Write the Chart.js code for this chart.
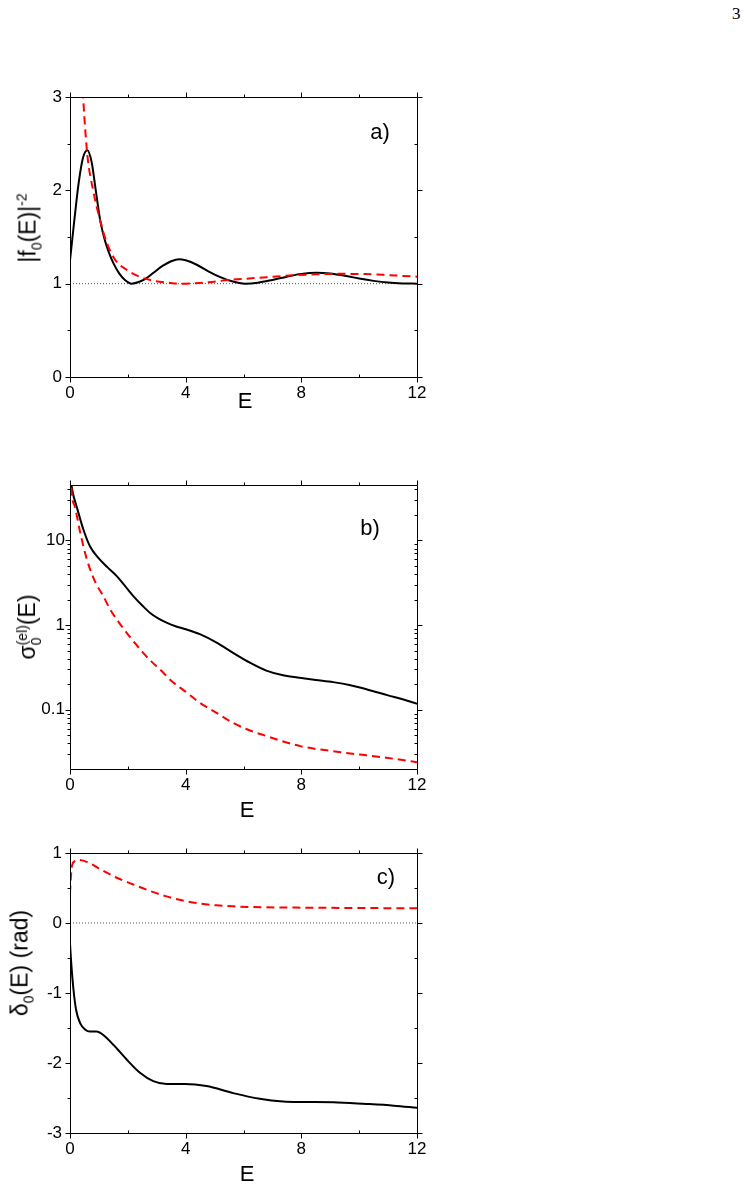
<!DOCTYPE html>
<html>
<head>
<meta charset="utf-8">
<script src="https://cdn.jsdelivr.net/npm/chart.js@4.4.1/dist/chart.umd.min.js"></script>
<style>
  body { margin: 0; background: #fff; }
  #page { position: relative; width: 747px; height: 1203px; overflow: hidden;
          font-family: "Liberation Sans", Arial, sans-serif; color: #000; }
  canvas { position: absolute; left: 0; }
  .lbl { position: absolute; transform: translate(-50%, -50%); white-space: nowrap; line-height: 1; }
  .ylab { position: absolute; transform: translate(-50%, -50%) rotate(-90deg); white-space: nowrap;
          line-height: 1; font-size: 23px; }
  .ylab sub, .ylab sup { font-size: 14px; line-height: 0; }
  .stack { display: inline-block; font-size: 14px; line-height: 14px; vertical-align: -6px; }
  .stack span { display: block; }
  .pnum { position: absolute; left: 732px; top: 4px; font-family: "Liberation Serif", "DejaVu Serif", serif; font-size: 17px; }
</style>
</head>
<body>
<div id="page">
  <div class="pnum">3</div>

  <canvas id="chartA" width="460" height="380" style="top:60px"></canvas>
  <canvas id="chartB" width="460" height="380" style="top:450px"></canvas>
  <canvas id="chartC" width="460" height="383" style="top:820px"></canvas>

  <div class="lbl" style="left:380px; top:132px; font-size:22px">a)</div>
  <div class="lbl" style="left:370px; top:528px; font-size:22px">b)</div>
  <div class="lbl" style="left:386px; top:877px; font-size:22px">c)</div>

  <div class="lbl" style="left:245px; top:401px; font-size:22px">E</div>
  <div class="lbl" style="left:247px; top:810px; font-size:22px">E</div>
  <div class="lbl" style="left:247px; top:1174px; font-size:22px">E</div>

  <div class="ylab" style="left:28px; top:228px">|f<sub>0</sub>(E)|<sup>-2</sup></div>
  <div class="ylab" style="left:29px; top:627px">σ<span class="stack"><span>(el)</span><span>0</span></span>(E)</div>
  <div class="ylab" style="left:20px; top:963px">δ<sub>0</sub>(E) (rad)</div>
</div>

<script>
// eje E (común a los tres paneles)
const eTicks = [0, 4, 8, 12];
const eMinor = [2, 6, 10];

// a) |f0(E)|^-2
const aTicks = [0, 1, 2, 3];
const aMinor = [0.5, 1.5, 2.5];
const aSolidE = [0, 0.15, 0.3, 0.45, 0.6, 0.75, 0.9, 1.05, 1.2, 1.35, 1.5, 1.7, 1.9, 2.13, 2.4, 2.65, 2.9, 3.2, 3.5, 3.77, 4.0, 4.4, 4.8, 5.2, 5.6, 6.05, 6.5, 7.0, 7.5, 8.0, 8.52, 9.0, 9.5, 10.0, 10.5, 11.0, 11.5, 12];
const aSolidV = [1.25, 1.68, 2.08, 2.35, 2.43, 2.3, 1.98, 1.67, 1.47, 1.33, 1.22, 1.11, 1.04, 1.0, 1.02, 1.06, 1.12, 1.19, 1.24, 1.262, 1.25, 1.2, 1.13, 1.07, 1.025, 1.0, 1.01, 1.04, 1.075, 1.105, 1.118, 1.11, 1.085, 1.055, 1.03, 1.012, 1.003, 1.0];
const aDashE = [0.4, 0.46, 0.6, 0.8, 1.04, 1.27, 1.55, 1.95, 2.4, 2.9, 3.4, 3.8, 4.3, 4.8, 5.5, 6.2, 6.8, 7.6, 8.5, 9.3, 10.2, 11.0, 11.5, 12];
const aDashV = [3.35, 2.97, 2.38, 2.0, 1.68, 1.44, 1.26, 1.15, 1.075, 1.03, 1.01, 1.0, 1.005, 1.015, 1.04, 1.055, 1.07, 1.087, 1.1, 1.105, 1.103, 1.092, 1.083, 1.075];
const aRefE = [0, 12];
const aRefV = [1, 1];

// b) sigma0(el)(E), escala log
const bTicks = [0.1, 1, 10];
const bSolidE = [0.03, 0.1, 0.23, 0.46, 0.69, 0.98, 1.3, 1.61, 1.9, 2.19, 2.5, 2.76, 3.05, 3.34, 3.65, 3.97, 4.49, 5.07, 5.64, 6.22, 6.79, 7.37, 8.0, 8.5, 9.1, 9.7, 10.25, 11.0, 11.5, 12];
const bSolidV = [50, 36, 25, 13.5, 8.5, 6.2, 4.8, 3.8, 2.9, 2.2, 1.7, 1.4, 1.2, 1.07, 0.97, 0.9, 0.78, 0.62, 0.47, 0.36, 0.29, 0.255, 0.237, 0.225, 0.212, 0.195, 0.175, 0.148, 0.133, 0.118];
const bDashE = [0.03, 0.06, 0.17, 0.35, 0.58, 0.81, 0.92, 1.15, 1.38, 1.67, 1.96, 2.25, 2.53, 2.82, 3.11, 3.5, 3.97, 4.49, 5.07, 5.64, 6.22, 6.79, 7.4, 8.0, 8.5, 9.1, 9.7, 10.25, 11.0, 11.5, 12];
const bDashV = [60, 36, 25, 12.5, 6, 3.6, 3.0, 2.2, 1.55, 1.1, 0.81, 0.61, 0.47, 0.37, 0.3, 0.22, 0.166, 0.121, 0.092, 0.07, 0.057, 0.049, 0.042, 0.037, 0.0345, 0.0325, 0.0305, 0.029, 0.027, 0.0255, 0.0241];

// c) delta0(E) (rad)
const cTicks = [-3, -2, -1, 0, 1];
const cMinor = [-2.5, -1.5, -0.5, 0.5];
const cSolidE = [0, 0.03, 0.06, 0.12, 0.21, 0.35, 0.52, 0.69, 0.92, 1.15, 1.5, 1.96, 2.42, 2.88, 3.34, 3.97, 4.72, 5.64, 6.56, 7.37, 8.0, 9.1, 10.25, 11.2, 12];
const cSolidV = [-0.29, -0.5, -0.67, -0.95, -1.24, -1.43, -1.52, -1.55, -1.55, -1.6, -1.74, -1.95, -2.14, -2.26, -2.3, -2.3, -2.33, -2.43, -2.51, -2.55, -2.557, -2.56, -2.585, -2.61, -2.64];
const cDashE = [0, 0.03, 0.07, 0.15, 0.3, 0.6, 1.04, 1.6, 2.19, 2.75, 3.34, 3.9, 4.49, 5.07, 5.64, 6.2, 6.79, 8.0, 9.5, 10.5, 12];
const cDashV = [0.42, 0.65, 0.82, 0.88, 0.9, 0.87, 0.77, 0.65, 0.55, 0.46, 0.38, 0.32, 0.278, 0.252, 0.238, 0.229, 0.224, 0.219, 0.215, 0.213, 0.21];
const cRefE = [0, 12];
const cRefV = [0, 0];

const FONT = "'Liberation Sans', Arial, sans-serif";

function pts(xs, ys) {
  return xs.map((x, i) => ({ x: x, y: ys[i] }));
}

// marco y marcas de los cuatro lados
const framePlugin = {
  id: "frame",
  afterDraw(chart, args, o) {
    const { ctx, chartArea: a } = chart;
    const xs = chart.scales.x, ys = chart.scales.y;
    const L = a.left + 0.5, R = a.right + 0.5, T = a.top + 0.5, B = a.bottom + 0.5;
    ctx.save();
    ctx.strokeStyle = "#000";
    ctx.lineWidth = 1;
    ctx.beginPath();
    const seg = (x1, y1, x2, y2) => { ctx.moveTo(x1, y1); ctx.lineTo(x2, y2); };
    seg(L, T, R, T); seg(R, T, R, B); seg(R, B, L, B); seg(L, B, L, T);
    o.xMajor.forEach(v => {
      const p = Math.round(xs.getPixelForValue(v)) + 0.5;
      seg(p, B, p, B + 5); seg(p, T, p, T - 5);
    });
    o.xMinor.forEach(v => {
      const p = Math.round(xs.getPixelForValue(v)) + 0.5;
      seg(p, B, p, B - 3); seg(p, T, p, T - 3);
    });
    o.yMajor.forEach(v => {
      const p = Math.round(ys.getPixelForValue(v)) + 0.5;
      seg(L, p, L - 5, p); seg(R, p, R + 5, p);
    });
    o.yMinor.forEach(v => {
      const p = Math.round(ys.getPixelForValue(v)) + 0.5;
      seg(L, p, L - 3, p); seg(R, p, R - 3, p);
    });
    ctx.stroke();
    ctx.restore();
  }
};

function logMinor(min, max) {
  const out = [];
  [0.01, 0.1, 1, 10].forEach(d => {
    for (let m = 2; m <= 9; m++) {
      const v = m * d;
      if (v > min && v < max) out.push(v);
    }
  });
  return out;
}

function panel(id, cfg) {
  const datasets = [
    { data: pts(cfg.dashE, cfg.dashV), borderColor: "#ff0000", borderWidth: 2, borderDash: [8, 5], clip: 0 },
    { data: pts(cfg.solidE, cfg.solidV), borderColor: "#000", borderWidth: 2, clip: 0 }
  ];
  if (cfg.refE) {
    datasets.push({ data: pts(cfg.refE, cfg.refV), borderColor: "#555", borderWidth: 1, borderDash: [1, 2], clip: 0 });
  }
  const tickFont = { family: FONT, size: 17 };
  return new Chart(document.getElementById(id), {
    type: "line",
    data: { datasets: datasets },
    options: {
      responsive: false,
      animation: false,
      events: [],
      layout: { padding: { top: cfg.padTop, right: 43, left: 0, bottom: 0 } },
      elements: {
        point: { radius: 0 },
        line: { cubicInterpolationMode: "monotone", fill: false }
      },
      plugins: {
        legend: { display: false },
        tooltip: { enabled: false },
        frame: { xMajor: eTicks, xMinor: eMinor, yMajor: cfg.yTicks, yMinor: cfg.yMinor }
      },
      scales: {
        x: {
          type: "linear", min: 0, max: 12,
          grid: { display: false, drawTicks: false },
          border: { display: false },
          afterBuildTicks: s => { s.ticks = eTicks.map(v => ({ value: v })); },
          afterFit: s => { s.height = cfg.xHeight; },
          ticks: { padding: 6, font: tickFont, color: "#000", maxRotation: 0, autoSkip: false, callback: v => String(v) }
        },
        y: {
          type: cfg.log ? "logarithmic" : "linear", min: cfg.yMin, max: cfg.yMax,
          grid: { display: false, drawTicks: false },
          border: { display: false },
          afterBuildTicks: s => { s.ticks = cfg.yTicks.map(v => ({ value: v })); },
          afterFit: s => { s.width = 70; },
          ticks: { padding: cfg.yPad, font: tickFont, color: "#000", autoSkip: false, callback: v => String(v) }
        }
      }
    },
    plugins: [framePlugin]
  });
}

panel("chartA", {
  padTop: 37, xHeight: 63, yMin: 0, yMax: 3, yTicks: aTicks, yMinor: aMinor, yPad: 8,
  solidE: aSolidE, solidV: aSolidV, dashE: aDashE, dashV: aDashV, refE: aRefE, refV: aRefV
});

panel("chartB", {
  padTop: 35, xHeight: 61, yMin: 0.02, yMax: 45, log: true, yTicks: bTicks, yMinor: logMinor(0.02, 45), yPad: 5,
  solidE: bSolidE, solidV: bSolidV, dashE: bDashE, dashV: bDashV
});

panel("chartC", {
  padTop: 33, xHeight: 70, yMin: -3, yMax: 1, yTicks: cTicks, yMinor: cMinor, yPad: 8,
  solidE: cSolidE, solidV: cSolidV, dashE: cDashE, dashV: cDashV, refE: cRefE, refV: cRefV
});
</script>
</body>
</html>
